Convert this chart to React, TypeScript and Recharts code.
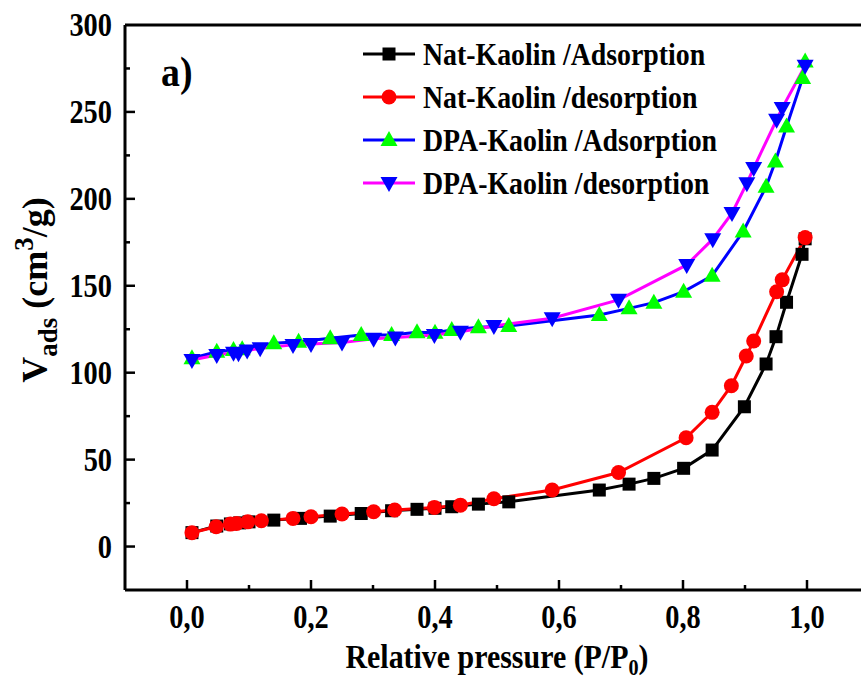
import React from 'react';
import { LineChart, Line, XAxis, YAxis, ReferenceLine, Customized } from 'recharts';

// ---------- data ----------
const natAdsP = [0.008, 0.048, 0.07, 0.085, 0.1, 0.14, 0.183, 0.231, 0.281, 0.33, 0.371, 0.4, 0.427, 0.47, 0.519, 0.665, 0.713, 0.753, 0.801, 0.847, 0.899, 0.934, 0.95, 0.967, 0.992, 0.997];
const natAdsV = [8, 11.8, 13, 13.6, 14.2, 15.2, 16.2, 17.5, 19, 20.6, 21.4, 22, 22.9, 24.4, 25.7, 32.5, 35.9, 39.2, 45, 55.5, 80.4, 105, 120.7, 140.5, 168.1, 177];

const natDesP = [0.997, 0.96, 0.951, 0.914, 0.902, 0.878, 0.847, 0.805, 0.696, 0.589, 0.495, 0.441, 0.399, 0.335, 0.301, 0.25, 0.2, 0.171, 0.12, 0.098, 0.08, 0.07, 0.047, 0.008];
const natDesV = [177.7, 153.4, 146.6, 118.2, 109.6, 92.5, 77.2, 62.6, 42.6, 32.5, 27.5, 23.8, 22.5, 21, 20, 18.7, 17.1, 16.2, 14.8, 14.2, 13.3, 12.9, 11.4, 7.9];

const dpaAdsP = [0.008, 0.048, 0.075, 0.089, 0.14, 0.18, 0.231, 0.281, 0.33, 0.371, 0.4, 0.427, 0.47, 0.519, 0.665, 0.713, 0.753, 0.801, 0.847, 0.897, 0.934, 0.949, 0.967, 0.993, 0.997];
const dpaAdsV = [108.3, 112, 113, 113.5, 117, 117.8, 119.8, 121.7, 121.7, 123.2, 123, 124.6, 126.1, 126.9, 133.2, 137, 140.3, 146.6, 155.8, 181.2, 207, 221.5, 241.6, 269.5, 279];

const dpaDesP = [0.997, 0.96, 0.951, 0.914, 0.903, 0.879, 0.848, 0.806, 0.696, 0.589, 0.495, 0.441, 0.399, 0.336, 0.301, 0.25, 0.2, 0.171, 0.118, 0.097, 0.083, 0.075, 0.048, 0.008];
const dpaDesV = [276.6, 252.2, 245.5, 217.7, 209, 191.8, 176.8, 162, 141.9, 131.3, 126.9, 123.6, 121.7, 120.2, 119.5, 117.3, 116.5, 116, 114, 112.7, 111.2, 111.5, 110.2, 107.3];

const seriesNames = ['Nat-Kaolin /Adsorption', 'Nat-Kaolin /desorption', 'DPA-Kaolin /Adsorption', 'DPA-Kaolin /desorption'];
const xTicks = [0, 0.1, 0.2, 0.3, 0.4, 0.5, 0.6, 0.7, 0.8, 0.9, 1.0];
const yTicks = [0, 25, 50, 75, 100, 125, 150, 175, 200, 225, 250, 275, 300];

const zip = (p: number[], v: number[]) => p.map((x, i) => ({ p: x, v: v[i] }));
const natAds = zip(natAdsP, natAdsV);
const natDes = zip(natDesP, natDesV);
const dpaAds = zip(dpaAdsP, dpaAdsV);
const dpaDes = zip(dpaDesP, dpaDesV);

// ---------- layout ----------
const W = 880;
const H = 679;
const PLOT_LEFT = 125;
const PLOT_TOP = 25;
const PLOT_BOTTOM = 590;
const Y_AXIS_W = 60;
const X_AXIS_H = 40;
const FONT = '"Liberation Serif", "Times New Roman", serif';
const SX = 0.86;

type MarkerKind = 'square' | 'circle' | 'up' | 'down';

const Marker = ({ kind, cx, cy }: { kind: MarkerKind; cx: number; cy: number }) => {
  if (kind === 'square') return <rect x={cx - 6.5} y={cy - 6.5} width={13} height={13} fill="#000" />;
  if (kind === 'circle') return <circle cx={cx} cy={cy} r={7.5} fill="#ff0000" />;
  if (kind === 'up')
    return <polygon points={`${cx},${cy - 9} ${cx + 8.5},${cy + 6} ${cx - 8.5},${cy + 6}`} fill="#00ff00" />;
  return <polygon points={`${cx},${cy + 9} ${cx + 8.5},${cy - 6} ${cx - 8.5},${cy - 6}`} fill="#0000ff" />;
};

const makeDot = (kind: MarkerKind) => (props: any) => {
  const { cx, cy, index } = props;
  if (cx == null || cy == null) return <g key={`e-${kind}-${index}`} />;
  return (
    <g key={`d-${kind}-${index}`}>
      <Marker kind={kind} cx={cx} cy={cy} />
    </g>
  );
};

const series = [
  { data: natAds, line: '#000000', kind: 'square' as MarkerKind },
  { data: natDes, line: '#ff0000', kind: 'circle' as MarkerKind },
  { data: dpaAds, line: '#0000ff', kind: 'up' as MarkerKind },
  { data: dpaDes, line: '#ff00ff', kind: 'down' as MarkerKind },
];

const YTick = (props: any) => {
  const { y, payload } = props;
  const v = payload.value;
  const major = v % 50 === 0;
  return (
    <g>
      {v !== 300 && (
        <line x1={PLOT_LEFT} x2={PLOT_LEFT + (major ? 10 : 5)} y1={y} y2={y} stroke="#000" strokeWidth={2.5} />
      )}
      {major && (
        <g transform={`translate(${PLOT_LEFT - 13}, ${y + 11}) scale(${SX}, 1)`}>
          <text x={0} y={0} textAnchor="end" fontFamily={FONT} fontWeight="bold" fontSize={33} fill="#000">
            {v}
          </text>
        </g>
      )}
    </g>
  );
};

const XTick = (props: any) => {
  const { x, payload, index } = props;
  const major = index % 2 === 0;
  return (
    <g>
      <line x1={x} x2={x} y1={PLOT_BOTTOM} y2={PLOT_BOTTOM - (major ? 10 : 5)} stroke="#000" strokeWidth={2.5} />
      {major && (
        <g transform={`translate(${x}, ${PLOT_BOTTOM + 38}) scale(${SX}, 1)`}>
          <text x={0} y={0} textAnchor="middle" fontFamily={FONT} fontWeight="bold" fontSize={33} fill="#000">
            {Number(payload.value).toFixed(1).replace('.', ',')}
          </text>
        </g>
      )}
    </g>
  );
};

const Decorations = () => (
  <g fontFamily={FONT} fontWeight="bold" fill="#000">
    {/* panel label */}
    <g transform={`translate(161, 86) scale(0.9, 1)`}>
      <text x={0} y={0} fontSize={42}>a)</text>
    </g>
    {/* legend */}
    {series.map((s, i) => {
      const cy = 54 + i * 43;
      return (
        <g key={`lg-${i}`}>
          <line x1={363} x2={415} y1={cy} y2={cy} stroke={s.line} strokeWidth={3} />
          <Marker kind={s.kind} cx={389} cy={cy} />
          <g transform={`translate(423, ${cy + 10.5}) scale(0.87, 1)`}>
            <text x={0} y={0} fontSize={32}>{seriesNames[i]}</text>
          </g>
        </g>
      );
    })}
    {/* x axis title */}
    <g transform={`translate(497, 668) scale(0.88, 1)`}>
      <text x={0} y={0} fontSize={34} textAnchor="middle">
        Relative pressure (P/P<tspan fontSize={23} dy={7}>0</tspan><tspan dy={-7}>)</tspan>
      </text>
    </g>
    {/* y axis title */}
    <g transform={`translate(47, 290) rotate(-90)`}>
      <text x={0} y={0} fontSize={36} textAnchor="middle">
        V<tspan fontSize={27} dy={10}>ads</tspan>
        <tspan dy={-10}> (cm</tspan>
        <tspan fontSize={27} dy={-14}>3</tspan>
        <tspan dy={14}>/g)</tspan>
      </text>
    </g>
  </g>
);

export default function App() {
  return (
    <div style={{ position: 'fixed', left: 0, top: 0, width: 861, height: 679, overflow: 'hidden', background: '#fff' }}>
      <LineChart
        width={W}
        height={H}
        margin={{ top: PLOT_TOP, right: W - PLOT_LEFT - 744, bottom: H - PLOT_BOTTOM - X_AXIS_H, left: PLOT_LEFT - Y_AXIS_W }}
      >
        <XAxis
          type="number"
          dataKey="p"
          domain={[-0.1, 1.1]}
          ticks={xTicks}
          interval={0}
          height={X_AXIS_H}
          tickLine={false}
          axisLine={{ stroke: '#000', strokeWidth: 3 }}
          tick={<XTick />}
          allowDuplicatedCategory={false}
        />
        <YAxis
          type="number"
          dataKey="v"
          domain={[-25, 300]}
          ticks={yTicks}
          interval={0}
          width={Y_AXIS_W}
          tickLine={false}
          axisLine={{ stroke: '#000', strokeWidth: 3 }}
          tick={<YTick />}
        />
        <ReferenceLine y={300} stroke="#000" strokeWidth={3} />
        {series.map((s, i) => (
          <Line
            key={`s-${i}`}
            data={s.data}
            dataKey="v"
            type="linear"
            stroke={s.line}
            strokeWidth={3}
            dot={makeDot(s.kind)}
            activeDot={false}
            isAnimationActive={false}
            name={seriesNames[i]}
          />
        ))}
        <Customized component={Decorations} />
      </LineChart>
    </div>
  );
}
